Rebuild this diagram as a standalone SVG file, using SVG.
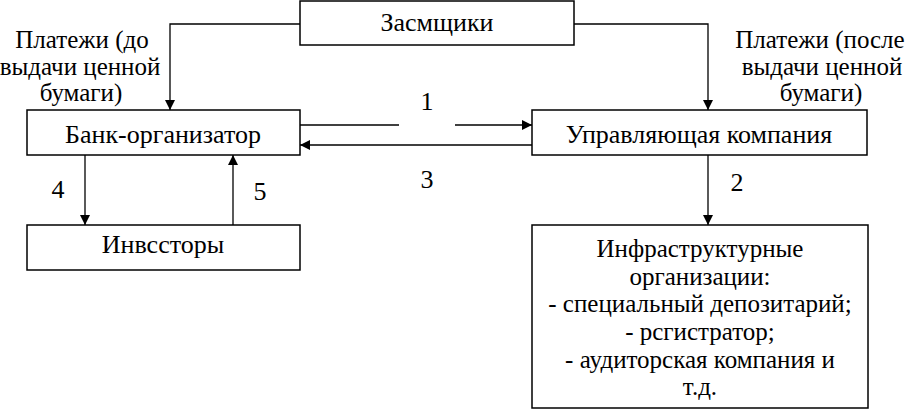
<svg xmlns="http://www.w3.org/2000/svg" width="906" height="411" viewBox="0 0 906 411">
<style>
.box{fill:#fff;stroke:#000;stroke-width:1.5}
.ln{fill:none;stroke:#000;stroke-width:1.3}
text{font-family:"Liberation Serif","Tinos","Times New Roman","DejaVu Serif",serif;font-size:26px;fill:#000;text-anchor:middle}
text.s{font-size:25px}
</style>
<defs>
<marker id="ah" viewBox="0 0 10 10" refX="10" refY="5" markerWidth="10" markerHeight="10" markerUnits="userSpaceOnUse" orient="auto">
<path d="M0,0 L10,5 L0,10 Z" fill="#000"/>
</marker>
</defs>
<rect width="906" height="411" fill="#fff"/>
<g id="connectors">
<path class="ln" d="M300,24 H170 V110" marker-end="url(#ah)"/>
<path class="ln" d="M574,24 H708 V110" marker-end="url(#ah)"/>
<path class="ln" d="M300,125 H399"/>
<path class="ln" d="M455,125 H532" marker-end="url(#ah)"/>
<path class="ln" d="M532,145 H300" marker-end="url(#ah)"/>
<path class="ln" d="M85,155 V225" marker-end="url(#ah)"/>
<path class="ln" d="M233,225 V155" marker-end="url(#ah)"/>
<path class="ln" d="M708,155 V225" marker-end="url(#ah)"/>
<text x="427" y="110">1</text>
<text x="427" y="188">3</text>
<text x="58" y="198">4</text>
<text x="260" y="200">5</text>
<text x="737" y="191">2</text>
<text class="s" x="82" y="48">Платежи (до</text>
<text class="s" x="80" y="75">выдачи ценной</text>
<text class="s" x="81" y="101">бумаги)</text>
<text class="s" x="820" y="48">Платежи (после</text>
<text class="s" x="822" y="75">выдачи ценной</text>
<text class="s" x="821" y="101">бумаги)</text>
</g>
<g id="zaemshiki">
<rect class="box" x="300" y="1" width="274" height="44"/>
<text x="437" y="31">Засмщики</text>
</g>
<g id="bank">
<rect class="box" x="27" y="110" width="273" height="45"/>
<text x="163" y="143">Банк-организатор</text>
</g>
<g id="uk">
<rect class="box" x="532" y="110" width="335" height="45"/>
<text x="699" y="143">Управляющая компания</text>
</g>
<g id="investors">
<rect class="box" x="27" y="225" width="273" height="45"/>
<text x="163" y="253">Инвссторы</text>
</g>
<g id="infra">
<rect class="box" x="532" y="225" width="336" height="183"/>
<text class="s" x="700" y="257">Инфраструктурные</text>
<text class="s" x="700" y="285">организации:</text>
<text class="s" x="700" y="312">- специальный депозитарий;</text>
<text class="s" x="700" y="340">- рсгистратор;</text>
<text class="s" x="700" y="368">- аудиторская компания и</text>
<text class="s" x="700" y="395">т.д.</text>
</g>
</svg>
